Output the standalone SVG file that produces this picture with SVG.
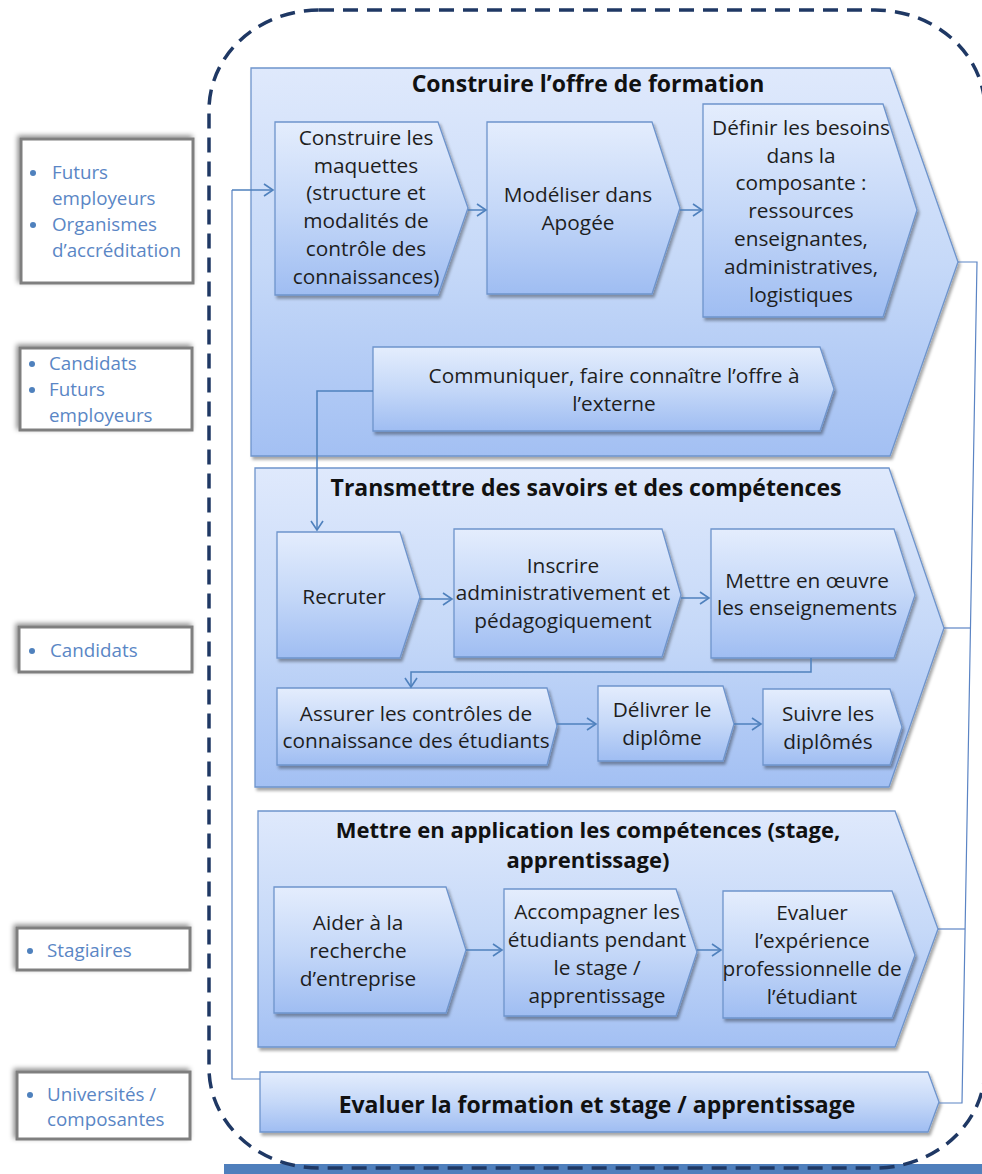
<svg xmlns="http://www.w3.org/2000/svg" width="982" height="1174" viewBox="0 0 982 1174">
<defs>
<linearGradient id="gBig" x1="0" y1="0" x2="0" y2="1">
<stop offset="0" stop-color="#dfe9fc"/><stop offset="0.5" stop-color="#c6d9f8"/><stop offset="1" stop-color="#a3c0f3"/>
</linearGradient>
<linearGradient id="gIn" x1="0" y1="0" x2="0" y2="1">
<stop offset="0" stop-color="#e4edfd"/><stop offset="0.5" stop-color="#c5d8f8"/><stop offset="1" stop-color="#9fbdf2"/>
</linearGradient>
<filter id="sh" x="-10%" y="-10%" width="130%" height="130%">
<feDropShadow dx="2" dy="3" stdDeviation="1.8" flood-color="#000" flood-opacity="0.35"/>
</filter>
<filter id="shL" x="-15%" y="-20%" width="130%" height="140%">
<feDropShadow dx="-2" dy="-2" stdDeviation="2.5" flood-color="#000" flood-opacity="0.45"/>
</filter>
<marker id="arr" markerWidth="12" markerHeight="14" refX="10" refY="7" orient="auto" markerUnits="userSpaceOnUse">
<path d="M1,1 L10,7 L1,13" fill="none" stroke="#4f81bd" stroke-width="1.6"/>
</marker>
<style>
.big{fill:url(#gBig);stroke:#6e94cc;stroke-width:1.3;filter:url(#sh)}
.in{fill:url(#gIn);stroke:#6e94cc;stroke-width:1.3;filter:url(#sh)}
.t{font-family:"Open Sans","Liberation Sans",sans-serif;font-size:20.8px;fill:#1e1e1e;text-anchor:middle}
.tb{font-family:"Open Sans","Liberation Sans",sans-serif;font-size:23px;font-weight:bold;fill:#111;text-anchor:middle}
.tb2{font-family:"Open Sans","Liberation Sans",sans-serif;font-size:22px;font-weight:bold;fill:#111;text-anchor:middle}
.lb{fill:#fff;stroke:#7f7f7f;stroke-width:3;filter:url(#shL)}
.lt{font-family:"Open Sans","Liberation Sans",sans-serif;font-size:18.8px;fill:#5a86c5}
.bul{fill:#4f81bd}
.c{fill:none;stroke:#4f81bd;stroke-width:1.5}
.c2{fill:none;stroke:#5b84c4;stroke-width:1.2}
</style>
</defs>
<rect x="0" y="0" width="982" height="1174" fill="#fff"/>
<rect x="224" y="1164" width="758" height="10" fill="#4f7fbc"/>
<rect id="boundary" x="209" y="10" width="776" height="1158" rx="110" ry="100" fill="none" stroke="#1f3864" stroke-width="3.5" stroke-dasharray="15 9"/>

<g id="stakeholders">
<g id="sh1"><rect class="lb" x="21" y="139" width="172" height="144"/>
<circle class="bul" cx="33" cy="173" r="3"/><text class="lt" x="52" y="179">Futurs</text>
<text class="lt" x="52" y="205">employeurs</text>
<circle class="bul" cx="33" cy="225" r="3"/><text class="lt" x="52" y="231">Organismes</text>
<text class="lt" x="52" y="257">d’accréditation</text></g>
<g id="sh2"><rect class="lb" x="20" y="348" width="172" height="82"/>
<circle class="bul" cx="32" cy="364" r="3"/><text class="lt" x="49" y="370">Candidats</text>
<circle class="bul" cx="32" cy="390" r="3"/><text class="lt" x="49" y="396">Futurs</text>
<text class="lt" x="49" y="422">employeurs</text></g>
<g id="sh3"><rect class="lb" x="19" y="627" width="173" height="45"/>
<circle class="bul" cx="32" cy="651" r="3"/><text class="lt" x="50" y="657">Candidats</text></g>
<g id="sh4"><rect class="lb" x="17" y="928" width="173" height="42"/>
<circle class="bul" cx="30" cy="951" r="3"/><text class="lt" x="47" y="957">Stagiaires</text></g>
<g id="sh5"><rect class="lb" x="17" y="1072" width="173" height="67"/>
<circle class="bul" cx="30" cy="1095" r="3"/><text class="lt" x="47" y="1101">Universités /</text>
<text class="lt" x="47" y="1126">composantes</text></g>
</g>

<g id="p1">
<polygon class="big" points="251,68 890,68 958,262 890,456 251,456"/>
<text class="tb" x="588" y="92">Construire l’offre de formation</text>
</g>
<g id="p1a"><polygon class="in" points="275,122 438,122 468,208 438,295 275,295"/>
<text class="t" x="366" y="145">Construire les</text><text class="t" x="366" y="173">maquettes</text><text class="t" x="366" y="200">(structure et</text><text class="t" x="366" y="228">modalités de</text><text class="t" x="366" y="256">contrôle des</text><text class="t" x="366" y="284">connaissances)</text></g>
<g id="p1b"><polygon class="in" points="487,122 652,122 680,208 652,294 487,294"/>
<text class="t" x="578" y="202">Modéliser dans</text><text class="t" x="578" y="230">Apogée</text></g>
<g id="p1c"><polygon class="in" points="703,104 883,104 917,210 883,317 703,317"/>
<text class="t" x="801" y="135">Définir les besoins</text><text class="t" x="801" y="163">dans la</text><text class="t" x="801" y="190">composante :</text><text class="t" x="801" y="218">ressources</text><text class="t" x="801" y="246">enseignantes,</text><text class="t" x="801" y="274">administratives,</text><text class="t" x="801" y="302">logistiques</text></g>
<g id="p1d"><polygon class="in" points="373,347 820,347 834,389 820,431 373,431"/>
<text class="t" x="614" y="383">Communiquer, faire connaître l’offre à</text><text class="t" x="614" y="411">l’externe</text></g>

<g id="p2">
<polygon class="big" points="255,468 889,468 944,628 889,787 255,787"/>
<text class="tb" x="586" y="496">Transmettre des savoirs et des compétences</text>
</g>
<g id="p2a"><polygon class="in" points="277,532 400,532 420,597 400,658 277,658"/>
<text class="t" x="344" y="604">Recruter</text></g>
<g id="p2b"><polygon class="in" points="454,529 662,529 681,595 662,657 454,657"/>
<text class="t" x="563" y="573">Inscrire</text><text class="t" x="563" y="600">administrativement et</text><text class="t" x="563" y="628">pédagogiquement</text></g>
<g id="p2c"><polygon class="in" points="711,529 894,529 915,595 894,658 711,658"/>
<text class="t" x="807" y="588">Mettre en œuvre</text><text class="t" x="807" y="615">les enseignements</text></g>
<g id="p2d"><polygon class="in" points="277,688 547,688 557,726 547,765 277,765"/>
<text class="t" x="416" y="721">Assurer les contrôles de</text><text class="t" x="416" y="748">connaissance des étudiants</text></g>
<g id="p2e"><polygon class="in" points="598,686 723,686 734,724 723,761 598,761"/>
<text class="t" x="662" y="717">Délivrer le</text><text class="t" x="662" y="745">diplôme</text></g>
<g id="p2f"><polygon class="in" points="763,689 890,689 902,727 890,765 763,765"/>
<text class="t" x="828" y="721">Suivre les</text><text class="t" x="828" y="749">diplômés</text></g>

<g id="p3">
<polygon class="big" points="258,811 895,811 938,929 895,1047 258,1047"/>
<text class="tb2" x="588" y="838">Mettre en application les compétences (stage,</text>
<text class="tb2" x="588" y="868">apprentissage)</text>
</g>
<g id="p3a"><polygon class="in" points="274,887 446,887 466,950 446,1013 274,1013"/>
<text class="t" x="358" y="930">Aider à la</text><text class="t" x="358" y="958">recherche</text><text class="t" x="358" y="986">d’entreprise</text></g>
<g id="p3b"><polygon class="in" points="504,889 676,889 697,952 676,1016 504,1016"/>
<text class="t" x="597" y="919">Accompagner les</text><text class="t" x="597" y="947">étudiants pendant</text><text class="t" x="597" y="975">le stage /</text><text class="t" x="597" y="1003">apprentissage</text></g>
<g id="p3c"><polygon class="in" points="723,891 892,891 915,955 892,1018 723,1018"/>
<text class="t" x="812" y="920">Evaluer</text><text class="t" x="812" y="948">l’expérience</text><text class="t" x="812" y="976">professionnelle de</text><text class="t" x="812" y="1004">l’étudiant</text></g>

<g id="p4"><polygon class="in" points="260,1072 928,1072 939,1102 928,1132 260,1132"/>
<text class="tb" x="597" y="1113">Evaluer la formation et stage / apprentissage</text></g>

<g id="connectors">
<path class="c" d="M468,210 L486,210" marker-end="url(#arr)"/>
<path class="c" d="M680,210 L702,210" marker-end="url(#arr)"/>
<path class="c" d="M373,391 L317,391 L317,530" marker-end="url(#arr)"/>
<path class="c" d="M420,599 L452,599" marker-end="url(#arr)"/>
<path class="c" d="M681,598 L709,598" marker-end="url(#arr)"/>
<path class="c" d="M811,658 L811,672 L411,672 L411,687" marker-end="url(#arr)"/>
<path class="c" d="M557,724 L596,724" marker-end="url(#arr)"/>
<path class="c" d="M734,724 L761,724" marker-end="url(#arr)"/>
<path class="c" d="M466,950 L502,950" marker-end="url(#arr)"/>
<path class="c" d="M697,950 L721,950" marker-end="url(#arr)"/>
<path class="c2" d="M260,1079 L232,1079 L232,190" />
<path class="c" d="M232,190 L273,190" marker-end="url(#arr)"/>
<path class="c2" d="M958,262 L977,262 L962,1103 L939,1103"/>
<path class="c2" d="M944,628 L971,628"/>
<path class="c2" d="M938,929 L965,929"/>
</g>
</svg>
